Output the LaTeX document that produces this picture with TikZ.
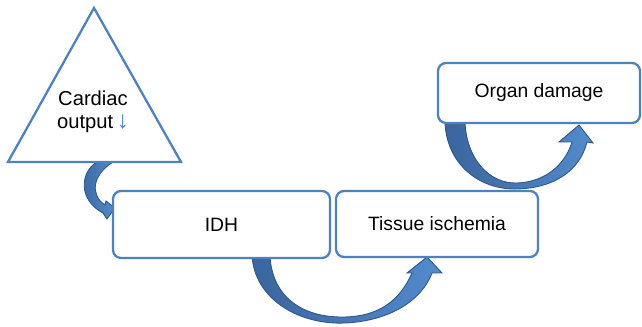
\documentclass[tikz,border=0pt]{standalone}
\usepackage{fontspec}
\setmainfont{Liberation Sans}
\definecolor{boxblue}{HTML}{4F81BD}
\definecolor{arrdark}{HTML}{3A659E}
\definecolor{arrlight}{HTML}{538BCC}
\definecolor{arredge}{HTML}{2E5686}
\begin{document}
\begin{tikzpicture}[x=0.02cm,y=-0.02cm,
  flowbox/.style={draw=boxblue, line width=1.3pt, rounded corners=0.16cm, fill=white,
    font=\fontsize{11}{13}\selectfont, text=black, inner sep=0pt},
  bentarrow/.style={draw=arredge, line width=0.5pt, left color=arrdark, right color=arrlight},
  labeltext/.style={font=\fontsize{11.5}{13.2}\selectfont, align=center, inner sep=0pt}
]
\useasboundingbox (0,0) rectangle (642,327);

% curved arrows (drawn first, boxes on top)
\draw[bentarrow] (97,162) .. controls (80,172) and (78,200) .. (103,213)
   -- (107,219) -- (115,208) -- (106,201) -- (105,205)
   .. controls (90,195) and (92,175) .. (113,162) -- cycle;

\draw[bentarrow] (252,256) .. controls (255,300) and (300,325) .. (345,323)
   .. controls (390,321) and (422,300) .. (432,273)
   -- (442,273) -- (427,257) -- (407,273) -- (412,273)
   .. controls (400,300) and (380,316) .. (345,317)
   .. controls (300,318) and (272,295) .. (270,256) -- cycle;

\draw[bentarrow] (445,123) .. controls (447,165) and (480,190) .. (517,189)
   .. controls (555,188) and (580,170) .. (587,142)
   -- (593,143) -- (579,125) -- (559,142) -- (572,142)
   .. controls (565,165) and (545,182) .. (517,183)
   .. controls (490,184) and (467,160) .. (465,123) -- cycle;

% triangle
\coordinate (apex) at (94,8);
\coordinate (bl) at (8,162);
\coordinate (br) at (181,162);
\draw[boxblue, line width=1.3pt, line join=miter] (apex) -- (bl) -- (br) -- cycle;
\node[labeltext] (co) at (93,112) {Cardiac\\output\,{\fontsize{14}{13.2}\selectfont\textcolor{boxblue}{↓}}};

% boxes
\node[flowbox, minimum width=4.34cm, minimum height=1.34cm] (idh) at (221.5,224.5) {IDH};
\node[flowbox, minimum width=4.04cm, minimum height=1.32cm] (tis) at (437,224) {Tissue ischemia};
\node[flowbox, minimum width=4.04cm, minimum height=1.20cm] (org) at (539,93) {Organ damage};
\end{tikzpicture}
\end{document}
